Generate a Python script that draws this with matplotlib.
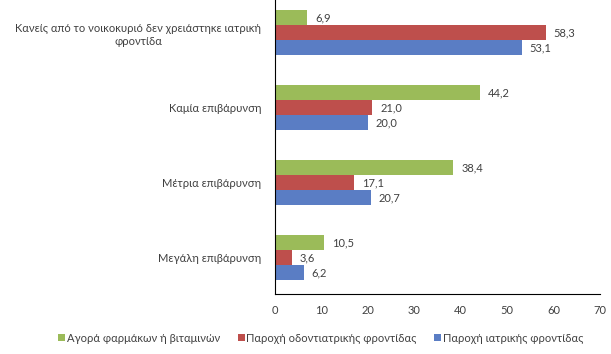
import numpy as np
import matplotlib.pyplot as plt

plt.rcParams['font.family'] = ['Lato', 'DejaVu Sans']

categories = ["Κανείς από το νοικοκυριό δεν χρειάστηκε ιατρική\nφροντίδα",
              "Καμία επιβάρυνση",
              "Μέτρια επιβάρυνση",
              "Μεγάλη επιβάρυνση"]
series_names = ["Αγορά φαρμάκων ή βιταμινών",
                "Παροχή οδοντιατρικής φροντίδας",
                "Παροχή ιατρικής φροντίδας"]
medicines = [6.9, 44.2, 38.4, 10.5]
dental = [58.3, 21.0, 17.1, 3.6]
medical = [53.1, 20.0, 20.7, 6.2]
colors = ['#9BBB59', '#BE4F4C', '#5A7DC4']

fig = plt.figure(figsize=(6.11, 3.54), dpi=100)
ax = fig.add_axes([0.45, 0.17, 0.532, 0.83])

y = np.arange(len(categories))
h = 0.2
txt = '#404040'
for k, vals in enumerate([medicines, dental, medical]):
    pos = y + (k - 1) * h
    ax.barh(pos, vals, height=h, color=colors[k], label=series_names[k])
    for p, v in zip(pos, vals):
        ax.text(v + 1.7, p, f"{v:.1f}".replace('.', ','), va='center', ha='left',
                fontsize=8, color=txt)

ax.set_xlim(0, 70)
ax.set_ylim(3.48, -0.44)
ax.set_xticks(range(0, 71, 10))
ax.set_yticks(y)
ax.set_yticklabels(categories, multialignment='center')
ax.tick_params(axis='both', length=0, labelsize=8, colors=txt)
ax.tick_params(axis='x', pad=8)
ax.tick_params(axis='y', pad=10)
for s in ['top', 'right']:
    ax.spines[s].set_visible(False)
ax.spines['left'].set_color('black')
ax.spines['bottom'].set_color('black')

handles, labels = ax.get_legend_handles_labels()
fig.legend(handles, labels, loc='center', bbox_to_anchor=(0.525, 0.045), ncol=3,
           frameon=False, fontsize=8, handlelength=0.6, handleheight=0.6,
           handletextpad=0.15, columnspacing=1.6, labelcolor=txt)

fig.savefig('out.png', dpi=100)
